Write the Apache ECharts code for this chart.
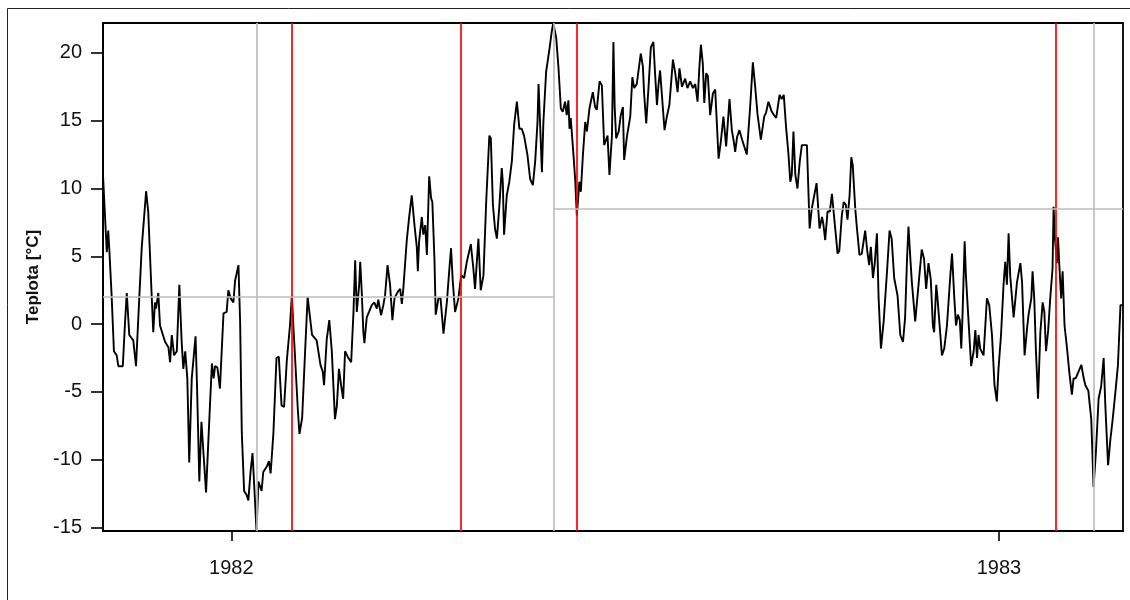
<!DOCTYPE html>
<html>
<head>
<meta charset="utf-8">
<title>Teplota</title>
<script src="https://cdn.jsdelivr.net/npm/echarts@6/dist/echarts.min.js"></script>
<style>
  html, body { margin: 0; padding: 0; background: #ffffff; }
  #chart { width: 1130px; height: 600px; }
</style>
</head>
<body>
<div id="chart"></div>
<script>
// Daily mean air temperature, 1 Nov 1981 – 1 Mar 1983.
// obsDay = days since 1981-11-01, tempC = temperature in °C.
const obsDay = [
  0, 1.8, 2.5, 3.0, 4.1, 5.2, 6.5, 7.3, 9.4, 10.5, 11.3, 12.5, 14.4, 15.7, 17.3, 18.4, 20.5, 21.5, 23.2, 23.9,
  24.7, 25.2, 26.3, 27.1, 29.5, 31.1, 31.9, 32.7, 33.8, 35.1, 36.3, 37.4, 38.2, 39.1, 40.1, 41.0, 42.2, 44.0, 44.7, 45.8,
  46.8, 47.7, 49.0, 49.7, 51.0, 51.8, 52.6, 53.3, 54.4, 55.6, 57.3, 58.8, 59.6, 60.7, 62.0, 62.8, 64.4, 65.2, 66.0, 67.1,
  68.3, 69.1, 70.2, 71.1, 71.8, 73.0, 73.9, 75.4, 76.2, 77.9, 78.9, 79.7, 81.0, 82.5, 83.6, 84.9, 86.1, 87.4, 88.9, 89.8,
  90.5, 91.1, 92.6, 93.4, 94.7, 96.1, 97.3, 98.5, 99.4, 101.6, 103.4, 104.5, 105.1, 106.4, 107.6, 108.8, 110.3, 111.2, 112.2, 113.2,
  114.2, 115.1, 116.7, 118.0, 119.1, 119.9, 120.7, 121.8, 122.3, 123.0, 123.8, 124.3, 125.4, 126.5, 127.8, 129.0, 130.2, 130.9, 132.2, 133.3,
  134.1, 135.3, 136.5, 137.6, 138.6, 140.2, 141.3, 142.1, 142.8, 144.4, 145.5, 146.8, 148.1, 149.2, 149.7, 150.3, 151.6, 152.3, 153.2, 154.0,
  155.1, 156.0, 156.6, 157.6, 158.2, 159.5, 160.5, 161.9, 163.5, 164.6, 165.5, 166.3, 167.4, 169.0, 170.3, 171.7, 173.0, 174.9, 176.1, 176.9,
  178.5, 179.6, 180.9, 182.2, 183.7, 184.4, 185.4, 186.4, 187.3, 188.5, 189.6, 190.1, 190.7, 192.0, 193.2, 194.4, 195.5, 196.8, 198.0, 199.1,
  200.2, 201.8, 203.1, 204.4, 205.5, 206.6, 207.1, 207.8, 208.7, 209.4, 210.7, 212.3, 213.4, 214.1, 215.5, 216.6, 217.7, 218.6, 219.7, 220.5,
  221.3, 221.8, 222.4, 223.7, 224.5, 225.3, 225.8, 226.5, 227.2, 228.2, 229.3, 230.1, 231.3, 232.9, 234.0, 234.8, 236.1, 237.2, 238.3, 239.0,
  239.9, 240.8, 242.0, 242.7, 243.3, 244.0, 245.2, 246.2, 247.2, 247.8, 249.1, 250.7, 251.7, 252.6, 253.8, 255.7, 256.7, 257.3, 258.3, 259.4,
  260.5, 261.7, 262.5, 263.4, 264.1, 264.9, 265.7, 267.0, 268.1, 269.3, 271.0, 272.1, 273.2, 274.1, 275.3, 276.8, 277.9, 279.2, 280.5, 281.6,
  282.7, 283.6, 284.3, 285.2, 285.9, 286.8, 287.6, 288.7, 290.0, 291.1, 292.7, 293.8, 295.0, 296.3, 297.9, 299.0, 299.9, 300.6, 301.5, 302.6,
  303.9, 305.1, 306.1, 307.7, 309.0, 310.1, 311.2, 312.8, 314.4, 315.3, 316.4, 317.9, 319.1, 320.1, 321.7, 322.7, 323.7, 324.8, 325.9, 326.8,
  327.5, 328.3, 329.2, 330.2, 331.3, 332.3, 334.7, 336.0, 337.0, 338.2, 339.3, 340.7, 341.9, 342.5, 343.4, 344.5, 345.6, 346.6, 347.7, 349.3,
  350.1, 351.3, 352.2, 353.2, 354.0, 355.0, 355.8, 356.5, 357.7, 358.5, 359.7, 360.8, 362.4, 363.4, 364.3, 365.1, 366.1, 366.9, 368.0, 368.8,
  369.9, 371.2, 372.8, 374.0, 375.0, 376.2, 377.8, 379.1, 380.4, 381.4, 382.3, 383.0, 383.9, 384.6, 386.2, 387.6, 389.3, 390.4, 391.4, 392.5,
  393.6, 394.6, 395.2, 396.2, 396.8, 397.8, 398.9, 400.0, 401.3, 402.9, 403.7, 404.8, 405.6, 406.5, 407.4, 408.1, 408.7, 409.7, 410.3, 411.3,
  412.8, 414.0, 414.8, 415.6, 416.3, 417.1, 418.7, 420.3, 421.4, 422.7, 423.9, 425.0, 425.8, 427.0, 428.2, 429.0, 429.8, 430.6, 431.4, 433.0,
  434.6, 436.2, 437.0, 438.2, 439.4, 440.1, 441.4, 442.0, 442.8, 443.6, 444.6, 445.7, 446.8, 447.6, 448.4, 449.4, 450.4, 451.5, 452.0, 452.5,
  453.1, 453.6, 454.1, 454.7, 455.6, 456.3, 457.2, 458.4, 459.5, 460.7, 461.5, 462.5, 463.6, 464.4, 465.2, 466.2, 467.1, 468.5, 469.9, 471.0,
  472.1, 473.4, 474.6, 475.8, 476.6, 477.9, 479.0, 480.1, 481.4, 482.6, 483.8, 485.0
];
const tempC = [
  11.0, 5.3, 6.9, 5.5, 2.1, -2.0, -2.3, -3.1, -3.1, 0.2, 2.3, -0.8, -1.2, -3.1, 2.1, 5.6, 9.8, 8.3, 1.9, -0.6,
  1.6, 1.15, 2.3, -0.1, -1.3, -1.7, -2.8, -0.8, -2.3, -2.0, 2.9, -1.3, -3.3, -2.0, -4.0, -10.2, -4.0, -0.9, -4.5, -11.6,
  -7.2, -7.3, -12.4, -12.3, -5.5, -2.9, -4.0, -3.1, -3.2, -4.75, 0.8, 0.9, 2.5, 1.9, 1.6, 3.2, 4.35, 0.2, -8.0, -12.3,
  -12.6, -13.0, -10.8, -9.5, -11.6, -15.25, -11.6, -12.3, -10.9, -10.5, -10.1, -11.0, -8.1, -2.5, -2.4, -6.0, -6.1, -2.7, -0.1, 2.1,
  -0.1, -1.8, -6.2, -8.1, -6.9, -2.0, 2.0, 0.4, -0.8, -1.2, -3.0, -3.5, -4.5, -1.1, 0.3, -2.0, -7.0, -6.0, -3.3, -4.5,
  -5.5, -2.0, -2.5, -2.8, 0.9, 4.7, 0.9, 2.9, 4.6, 2.5, -0.6, -1.4, 0.5, 0.9, 1.4, 1.6, 1.15, 1.8, 0.66, 1.4,
  2.1, 4.35, 2.9, 0.3, 1.9, 2.4, 2.6, 1.5, 2.6, 6.1, 7.8, 9.5, 7.3, 5.7, 3.9, 6.1, 7.9, 6.6, 7.3, 5.1,
  10.9, 9.3, 9.0, 4.8, 0.7, 1.9, 1.9, -0.7, 1.6, 3.9, 5.6, 3.2, 0.9, 1.9, 3.6, 3.4, 4.6, 5.9, 4.1, 2.6,
  6.3, 2.5, 3.6, 9.0, 13.9, 13.7, 8.8, 7.05, 6.3, 8.8, 11.5, 10.5, 6.6, 9.5, 10.5, 12.0, 14.7, 16.4, 14.4, 14.4,
  13.9, 12.5, 10.7, 10.25, 12.0, 14.9, 17.7, 14.9, 11.2, 14.9, 18.6, 20.3, 21.6, 22.2, 21.1, 18.85, 15.9, 15.65, 16.4, 15.4,
  16.5, 14.4, 15.2, 12.5, 10.7, 8.0, 9.0, 10.5, 9.76, 12.5, 14.9, 14.2, 15.9, 17.1, 16.0, 15.8, 17.9, 17.6, 13.2, 13.5,
  13.9, 11.0, 13.9, 20.8, 16.0, 13.7, 14.2, 15.4, 16.0, 12.1, 13.8, 15.3, 18.2, 17.4, 17.7, 19.95, 19.0, 17.0, 14.8, 17.5,
  20.4, 20.8, 18.5, 16.15, 17.6, 18.7, 17.0, 14.3, 15.3, 16.15, 19.5, 18.5, 17.1, 18.85, 17.5, 18.1, 17.4, 17.9, 17.4, 17.7,
  16.4, 19.0, 20.6, 19.2, 16.3, 18.5, 18.3, 15.4, 17.0, 17.3, 12.2, 13.5, 15.3, 13.1, 16.6, 14.3, 13.5, 12.7, 13.8, 14.3,
  13.6, 13.0, 12.5, 16.0, 19.3, 17.5, 15.5, 13.6, 15.3, 15.6, 16.4, 15.7, 15.4, 15.2, 16.9, 16.6, 16.9, 14.5, 12.6, 10.5,
  11.0, 14.2, 11.0, 10.0, 12.0, 13.2, 13.2, 7.05, 8.5, 9.5, 10.4, 7.05, 7.9, 7.4, 6.2, 8.3, 8.3, 9.6, 7.8, 5.2,
  5.4, 8.0, 9.0, 8.8, 7.7, 9.5, 12.3, 11.7, 8.5, 7.05, 5.1, 5.2, 6.9, 5.4, 4.35, 5.7, 3.4, 4.4, 6.7, 1.9,
  -1.8, 0.2, 3.9, 6.9, 6.3, 3.4, 2.1, -0.8, -1.3, 0.5, 4.8, 7.2, 4.8, 3.1, 0.2, 2.6, 5.5, 4.8, 2.6, 4.5,
  3.3, -0.1, -0.6, 2.9, 1.9, -0.1, -2.3, -1.8, -0.1, 3.6, 5.2, 1.9, -0.1, 0.7, 0.3, -1.8, 0.7, 6.1, 3.6, 0.9,
  -3.1, -2.0, -0.44, -2.5, -0.8, -1.8, -2.3, 1.9, 1.4, -0.8, -4.5, -5.7, -3.3, -0.8, 2.9, 4.6, 2.9, 6.7, 3.5, 0.5,
  3.1, 4.5, 3.1, -2.3, -0.3, 0.7, 1.9, 3.9, 1.9, -2.0, -5.5, -0.6, 1.6, 0.9, -2.0, -0.5, 1.9, 4.1, 8.65, 6.6,
  6.6, 4.5, 6.4, 4.4, 1.9, 3.9, -0.1, -1.8, -3.6, -5.2, -4.0, -4.0, -3.6, -3.3, -3.0, -3.9, -4.5, -4.9, -7.0, -12.0,
  -9.5, -5.5, -4.6, -2.5, -6.0, -10.4, -8.5, -7.0, -5.0, -3.0, 1.4, 1.4
];

// Year marks on the time axis (days since 1981-11-01)
const yearDays = [61, 426];
const yearLabels = ['1982', '1983'];
// Temperature ticks
const tempTicks = [-15, -10, -5, 0, 5, 10, 15, 20];

// Days of the seasonal extremes (grey verticals)
const extremeDays = [73.0, 214.1, 471.0];
// Days where the series crosses the period mean (red verticals)
const crossDays = [89.8, 170.3, 225.5, 452.8];
// Period means (grey horizontal segments): start day, end day, mean °C
const meanFrom = [0, 214.1];
const meanTo = [214.1, 485];
const meanTemp = [2.04, 8.53];

const FONT = '"Liberation Sans", Arial, Helvetica, sans-serif';

const chart = echarts.init(document.getElementById('chart'), null, { renderer: 'canvas' });

const seriesData = obsDay.map((d, i) => [d, tempC[i]]);

const greyLine = { color: '#bebebe', width: 1.7, type: 'solid' };
const redLine = { color: '#ff0000', width: 1.7, type: 'solid' };

const verticalLines = extremeDays.map(d => ({ xAxis: d, lineStyle: greyLine }))
  .concat(crossDays.map(d => ({ xAxis: d, lineStyle: redLine })));

const meanSegments = meanTemp.map((t, i) => [
  { coord: [meanFrom[i], t], lineStyle: greyLine },
  { coord: [meanTo[i], t] }
]);

chart.setOption({
  animation: false,
  backgroundColor: '#ffffff',
  grid: {
    left: 103, right: 7, top: 23, bottom: 69,
    show: true, borderColor: '#000000', borderWidth: 1.8,
    backgroundColor: 'transparent',
    containLabel: false, outerBoundsMode: 'none'
  },
  xAxis: {
    type: 'value',
    min: 0, max: 485,
    splitLine: { show: false },
    axisLine: { show: true, onZero: false, lineStyle: { color: '#000', width: 1.8 } },
    axisTick: { show: true, inside: false, length: 10, lineStyle: { color: '#000', width: 1.6 }, customValues: yearDays },
    axisLabel: {
      show: true, margin: 27, color: '#111', fontSize: 20, fontFamily: FONT,
      customValues: yearDays,
      formatter: v => yearLabels[yearDays.indexOf(v)] || ''
    }
  },
  yAxis: {
    type: 'value',
    min: -15.25, max: 22.2,
    splitLine: { show: false },
    axisLine: { show: true, onZero: false, lineStyle: { color: '#000', width: 1.8 } },
    axisTick: { show: true, inside: false, length: 12, lineStyle: { color: '#000', width: 1.6 }, customValues: tempTicks },
    axisLabel: {
      show: true, margin: 21, color: '#111', fontSize: 20, fontFamily: FONT,
      customValues: tempTicks,
      formatter: v => String(v)
    },
    name: 'Teplota [°C]',
    nameLocation: 'middle',
    nameGap: 52,
    nameRotate: 90,
    nameTextStyle: { color: '#111', fontSize: 17, fontWeight: 'bold', fontFamily: FONT }
  },
  series: [
    {
      name: 'reference lines',
      type: 'line',
      data: [],
      z: 1,
      silent: true,
      markLine: {
        silent: true,
        symbol: ['none', 'none'],
        label: { show: false },
        animation: false,
        data: verticalLines.concat(meanSegments)
      }
    },
    {
      name: 'Teplota',
      type: 'line',
      data: seriesData,
      z: 3,
      showSymbol: false,
      symbol: 'none',
      lineStyle: { color: '#000000', width: 1.9 },
      itemStyle: { color: '#000000' },
      emphasis: { disabled: true }
    }
  ],
  graphic: [
    {
      type: 'rect',
      silent: true,
      shape: { x: 7.5, y: 8.5, width: 1200, height: 700 },
      style: { fill: 'none', stroke: '#222222', lineWidth: 1 },
      z: -1
    }
  ]
});
</script>
</body>
</html>
